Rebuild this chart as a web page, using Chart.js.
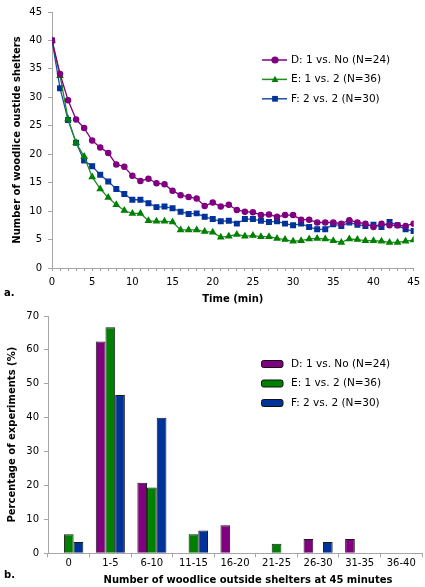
<!DOCTYPE html>
<html><head><meta charset="utf-8">
<script src="https://cdn.jsdelivr.net/npm/chart.js@4"></script>
<style>
html,body{margin:0;padding:0;background:#fff;}
#wrap{position:relative;width:425px;height:587px;overflow:hidden;}
#c1{position:absolute;left:0;top:0;}
#c2{position:absolute;left:0;top:305px;}
</style></head><body>
<div id="wrap">
<canvas id="c1" width="425" height="305"></canvas>
<canvas id="c2" width="425" height="282"></canvas>
</div>
<script>
// ---- data: panel a ----
const timeMin = [0,1,2,3,4,5,6,7,8,9,10,11,12,13,14,15,16,17,18,19,20,21,22,23,24,25,26,27,28,29,30,31,32,33,34,35,36,37,38,39,40,41,42,43,44,45];
const seriesLabels = ['D: 1 vs. No (N=24)', 'E: 1 vs. 2 (N=36)', 'F: 2 vs. 2 (N=30)'];
const seriesD = [40,34.1,29.5,26.1,24.6,22.4,21.2,20.2,18.2,17.8,16.2,15.3,15.7,14.9,14.7,13.6,12.8,12.5,12.2,10.9,11.5,10.8,11.1,10.2,9.9,9.8,9.3,9.4,9.0,9.3,9.3,8.5,8.5,8.0,8.0,8.0,7.8,8.4,8.0,7.8,7.2,7.8,7.5,7.5,7.4,7.8];
const seriesE = [40,33.8,26.2,22.0,19.6,16.0,13.9,12.4,11.1,10.1,9.6,9.6,8.3,8.2,8.2,8.1,6.7,6.7,6.7,6.4,6.3,5.4,5.6,5.9,5.6,5.7,5.5,5.5,5.2,5.0,4.7,4.8,5.1,5.2,5.1,4.8,4.5,5.1,5.0,4.8,4.8,4.7,4.5,4.5,4.7,4.9];
const seriesF = [40,31.6,26.0,22.0,18.9,17.9,16.4,15.2,13.9,13.0,12.0,12.0,11.4,10.7,10.8,10.5,9.9,9.5,9.6,9.0,8.6,8.2,8.3,7.8,8.6,8.6,8.3,8.1,8.2,7.8,7.5,7.8,7.2,6.8,6.8,7.7,7.4,8.0,7.6,7.4,7.6,7.2,8.1,7.5,6.8,6.5];
// ---- data: panel b ----
const binLabels = ['0','1-5','6-10','11-15','16-20','21-25','26-30','31-35','36-40'];
const pctD = [0,62.5,20.8,0,8.3,0,4.2,4.2,0];
const pctE = [5.6,66.7,19.4,5.6,0,2.8,0,0,0];
const pctF = [3.3,46.7,40.0,6.7,0,0,3.3,0,0];

const TICK_FONT = {family:'DejaVu Sans', size:10};
const TITLE_FONT = {family:'DejaVu Sans', size:10, weight:'bold'};
const AXIS_GRAY = '#a6a6a6';

function marker(ctx, style, x, y, r, color){
  ctx.fillStyle = color; ctx.strokeStyle = color; ctx.lineWidth = 1;
  ctx.beginPath();
  if (style === 'circle') { ctx.arc(x, y, r, 0, Math.PI*2); }
  else if (style === 'triangle') { ctx.moveTo(x, y - r); ctx.lineTo(x + r*0.95, y + r*0.7); ctx.lineTo(x - r*0.95, y + r*0.7); ctx.closePath(); }
  else { ctx.rect(x - r*0.8, y - r*0.8, r*1.6, r*1.6); }
  ctx.fill();
}

const lineLegend = {
  id: 'lineLegend',
  afterDraw(chart){
    const ctx = chart.ctx; ctx.save();
    ctx.font = '10.5px "DejaVu Sans"'; ctx.textBaseline = 'middle'; ctx.textAlign = 'left';
    chart.data.datasets.forEach((ds, i) => {
      const y = 60 + i*19.4;
      ctx.strokeStyle = ds.borderColor; ctx.lineWidth = 1.5;
      ctx.beginPath(); ctx.moveTo(262, y); ctx.lineTo(287, y); ctx.stroke();
      marker(ctx, ds.pointStyle, 275, y, 3.6, ds.pointBackgroundColor);
      ctx.fillStyle = '#000';
      ctx.fillText(ds.label, 291, y);
    });
    ctx.font = 'bold 10px "DejaVu Sans"';
    ctx.fillText('a.', 4, 293);
    ctx.restore();
  }
};

function rrect(ctx, x, y, w, h, r){
  ctx.beginPath();
  ctx.moveTo(x + r, y); ctx.lineTo(x + w - r, y); ctx.quadraticCurveTo(x + w, y, x + w, y + r);
  ctx.lineTo(x + w, y + h - r); ctx.quadraticCurveTo(x + w, y + h, x + w - r, y + h);
  ctx.lineTo(x + r, y + h); ctx.quadraticCurveTo(x, y + h, x, y + h - r);
  ctx.lineTo(x, y + r); ctx.quadraticCurveTo(x, y, x + r, y); ctx.closePath();
}

const barLegend = {
  id: 'barLegend',
  afterDraw(chart){
    const ctx = chart.ctx; ctx.save();
    ctx.font = '10.5px "DejaVu Sans"'; ctx.textBaseline = 'middle'; ctx.textAlign = 'left';
    chart.data.datasets.forEach((ds, i) => {
      const y = 59 + i*19.5;
      rrect(ctx, 261.5, y - 3.5, 21.5, 7, 2);
      ctx.fillStyle = ds.backgroundColor; ctx.fill();
      ctx.strokeStyle = '#111'; ctx.lineWidth = 1; ctx.stroke();
      ctx.fillStyle = '#000';
      ctx.fillText(ds.label, 291, y);
    });
    ctx.font = 'bold 10px "DejaVu Sans"';
    ctx.fillText('b.', 4, 270);
    ctx.textAlign = 'center';
    ctx.fillText('Number of woodlice outside shelters at 45 minutes', 248, 275);
    ctx.restore();
  }
};

new Chart(document.getElementById('c1'), {
  type: 'line',
  data: {
    datasets: [
      {label: seriesLabels[0], data: timeMin.map((t, i) => ({x: t, y: seriesD[i]})), borderColor: '#800080', pointBackgroundColor: '#800080', pointBorderColor: '#800080', pointStyle: 'circle', pointRadius: 2.6, borderWidth: 1.3},
      {label: seriesLabels[1], data: timeMin.map((t, i) => ({x: t, y: seriesE[i]})), borderColor: '#228b22', pointBackgroundColor: '#008000', pointBorderColor: '#008000', pointStyle: 'triangle', pointRadius: 3.2, borderWidth: 1.3},
      {label: seriesLabels[2], data: timeMin.map((t, i) => ({x: t, y: seriesF[i]})), borderColor: '#1f4ea0', pointBackgroundColor: '#003399', pointBorderColor: '#003399', pointStyle: 'rect', pointRadius: 3.3, borderWidth: 1.3}
    ]
  },
  options: {
    responsive: false, animation: false,
    layout: {padding: {left: 0, right: 8, top: 7, bottom: 0}},
    plugins: {legend: {display: false}, tooltip: {enabled: false}},
    elements: {line: {tension: 0}, point: {borderWidth: 1}},
    scales: {
      x: {
        type: 'linear', min: 0, max: 45,
        afterFit(s){ s.height = 37; },
        ticks: {stepSize: 1, autoSkip: false, maxTicksLimit: 100, maxRotation: 0, padding: 5, color: '#000', font: TICK_FONT,
                callback: v => (v % 5 === 0 ? String(v) : '')},
        grid: {display: true, drawOnChartArea: false, drawTicks: true, tickLength: 3, color: AXIS_GRAY},
        border: {display: true, color: AXIS_GRAY, width: 1},
        title: {display: true, text: 'Time (min)', color: '#000', font: TITLE_FONT, padding: {top: 3, bottom: 0}}
      },
      y: {
        min: 0, max: 45,
        afterFit(s){ s.width = 52; },
        ticks: {stepSize: 5, padding: 6, color: '#000', font: TICK_FONT},
        grid: {display: true, drawOnChartArea: false, drawTicks: true, tickLength: 4, color: AXIS_GRAY},
        border: {display: true, color: AXIS_GRAY, width: 1},
        title: {display: true, text: 'Number of woodlice oustide shelters', color: '#000', font: TITLE_FONT, padding: {top: 11, bottom: 0}}
      }
    }
  },
  plugins: [lineLegend]
});

new Chart(document.getElementById('c2'), {
  type: 'bar',
  data: {
    labels: binLabels,
    datasets: [
      {label: seriesLabels[0], data: pctD, backgroundColor: '#800080'},
      {label: seriesLabels[1], data: pctE, backgroundColor: '#008000'},
      {label: seriesLabels[2], data: pctF, backgroundColor: '#003399'}
    ]
  },
  options: {
    responsive: false, animation: false,
    layout: {padding: {left: 0, right: 3, top: 10, bottom: 0}},
    plugins: {legend: {display: false}, tooltip: {enabled: false}},
    datasets: {bar: {categoryPercentage: 0.7, barPercentage: 1.0, borderWidth: 1, borderColor: '#1a1a1a', borderSkipped: 'bottom'}},
    scales: {
      x: {
        afterFit(s){ s.height = 33.7; },
        ticks: {padding: 0, color: '#000', font: TICK_FONT, maxRotation: 0, autoSkip: false},
        grid: {display: true, offset: true, drawOnChartArea: false, drawTicks: true, tickLength: 4, color: AXIS_GRAY},
        border: {display: true, color: AXIS_GRAY, width: 1}
      },
      y: {
        min: 0, max: 70,
        afterFit(s){ s.width = 48; },
        ticks: {stepSize: 10, padding: 5, color: '#000', font: TICK_FONT},
        grid: {display: true, drawOnChartArea: false, drawTicks: true, tickLength: 4, color: AXIS_GRAY},
        border: {display: true, color: AXIS_GRAY, width: 1},
        title: {display: true, text: 'Percentage of experiments (%)', color: '#000', font: TITLE_FONT, padding: {top: 6.5, bottom: 0}}
      }
    }
  },
  plugins: [barLegend]
});
</script>
</body></html>
